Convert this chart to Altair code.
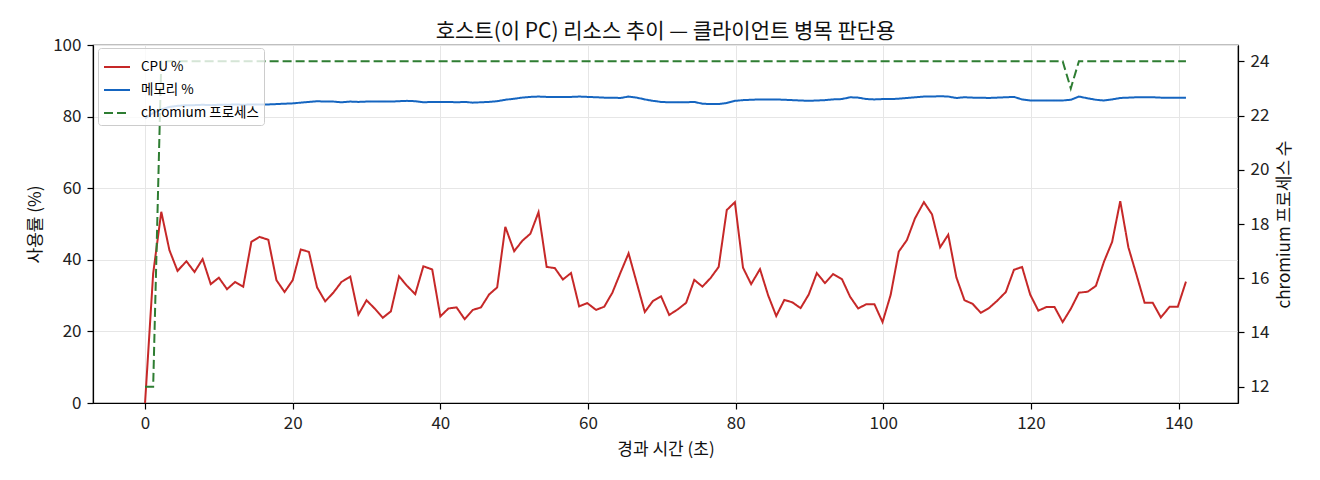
import altair as alt
import pandas as pd

# elapsed seconds of each sample
times = [
    0.0, 1.1, 2.2, 3.3, 4.4, 5.6, 6.7, 7.8, 8.9, 10.0,
    11.1, 12.2, 13.3, 14.4, 15.5, 16.7, 17.8, 18.9, 20.0, 21.1,
    22.2, 23.3, 24.4, 25.5, 26.6, 27.8, 28.9, 30.0, 31.1, 32.2,
    33.3, 34.4, 35.5, 36.6, 37.7, 38.9, 40.0, 41.1, 42.2, 43.3,
    44.4, 45.5, 46.6, 47.7, 48.8, 50.0, 51.1, 52.2, 53.3, 54.4,
    55.5, 56.6, 57.7, 58.8, 59.9, 61.1, 62.2, 63.3, 64.4, 65.5,
    66.6, 67.7, 68.8, 69.9, 71.0, 72.2, 73.3, 74.4, 75.5, 76.6,
    77.7, 78.8, 79.9, 81.0, 82.1, 83.3, 84.4, 85.5, 86.6, 87.7,
    88.8, 89.9, 91.0, 92.1, 93.2, 94.4, 95.5, 96.6, 97.7, 98.8,
    99.9, 101.0, 102.1, 103.2, 104.3, 105.5, 106.6, 107.7, 108.8, 109.9,
    111.0, 112.1, 113.2, 114.3, 115.4, 116.6, 117.7, 118.8, 119.9, 121.0,
    122.1, 123.2, 124.3, 125.4, 126.5, 127.7, 128.8, 129.9, 131.0, 132.1,
    133.2, 134.3, 135.4, 136.5, 137.6, 138.8, 139.9, 141.0,
]

cpu = [
    0.0, 36.2, 53.4, 42.7, 36.9, 39.6, 36.6, 40.2, 33.2, 35.0,
    31.8, 33.8, 32.5, 45.0, 46.4, 45.6, 34.3, 31.0, 34.3, 42.9,
    42.2, 32.3, 28.4, 30.8, 33.8, 35.3, 24.7, 28.7, 26.4, 23.8,
    25.6, 35.4, 32.7, 30.4, 38.2, 37.3, 24.2, 26.4, 26.7, 23.4,
    26.0, 26.7, 30.3, 32.3, 49.2, 42.4, 45.3, 47.3, 53.3, 38.0,
    37.7, 34.5, 36.3, 27.0, 27.9, 26.0, 26.9, 30.8, 36.4, 41.8,
    33.6, 25.4, 28.5, 29.8, 24.6, 26.2, 28.0, 34.4, 32.5, 34.9,
    38.0, 53.9, 56.1, 37.8, 33.2, 37.4, 30.1, 24.3, 28.8, 28.1,
    26.5, 30.3, 36.3, 33.5, 36.0, 34.6, 29.7, 26.4, 27.6, 27.6,
    22.6, 30.2, 42.3, 45.5, 51.6, 56.1, 52.7, 43.5, 47.0, 35.1,
    28.7, 27.7, 25.2, 26.5, 28.5, 31.0, 37.2, 38.0, 30.3, 25.8,
    26.8, 26.8, 22.6, 26.3, 30.8, 31.1, 32.7, 39.5, 45.0, 56.4,
    43.5, 35.8, 28.0, 28.0, 23.9, 26.9, 26.9, 33.9,
]

memory = [
    79.5, 81.0, 82.0, 82.7, 83.0, 83.2, 83.2, 83.3, 83.2, 83.3,
    83.3, 83.4, 83.3, 83.4, 83.4, 83.4, 83.5, 83.6, 83.7, 83.9,
    84.1, 84.3, 84.2, 84.2, 84.0, 84.2, 84.1, 84.2, 84.2, 84.2,
    84.2, 84.3, 84.4, 84.3, 84.0, 84.1, 84.1, 84.1, 84.0, 84.1,
    83.9, 84.0, 84.1, 84.3, 84.7, 85.0, 85.3, 85.5, 85.6, 85.5,
    85.5, 85.5, 85.5, 85.6, 85.5, 85.4, 85.3, 85.3, 85.2, 85.6,
    85.3, 84.8, 84.4, 84.1, 84.0, 84.0, 84.0, 84.1, 83.6, 83.5,
    83.5, 83.8, 84.4, 84.6, 84.7, 84.8, 84.8, 84.8, 84.7, 84.6,
    84.5, 84.4, 84.5, 84.6, 84.8, 84.9, 85.4, 85.3, 84.9, 84.8,
    84.9, 84.9, 85.0, 85.2, 85.4, 85.6, 85.6, 85.7, 85.6, 85.2,
    85.4, 85.3, 85.3, 85.2, 85.3, 85.4, 85.5, 84.8, 84.5, 84.5,
    84.5, 84.5, 84.5, 84.7, 85.6, 85.1, 84.7, 84.5, 84.8, 85.2,
    85.3, 85.4, 85.4, 85.4, 85.3, 85.3, 85.3, 85.3,
]

chromium = [
    12, 12, 24, 24, 24, 24, 24, 24, 24, 24,
    24, 24, 24, 24, 24, 24, 24, 24, 24, 24,
    24, 24, 24, 24, 24, 24, 24, 24, 24, 24,
    24, 24, 24, 24, 24, 24, 24, 24, 24, 24,
    24, 24, 24, 24, 24, 24, 24, 24, 24, 24,
    24, 24, 24, 24, 24, 24, 24, 24, 24, 24,
    24, 24, 24, 24, 24, 24, 24, 24, 24, 24,
    24, 24, 24, 24, 24, 24, 24, 24, 24, 24,
    24, 24, 24, 24, 24, 24, 24, 24, 24, 24,
    24, 24, 24, 24, 24, 24, 24, 24, 24, 24,
    24, 24, 24, 24, 24, 24, 24, 24, 24, 24,
    24, 24, 24, 23, 24, 24, 24, 24, 24, 24,
    24, 24, 24, 24, 24, 24, 24, 24,
]

SERIES = ["CPU %", "메모리 %", "chromium 프로세스"]
COLORS = ["#c62828", "#1565c0", "#2e7d32"]
DASHES = [[1, 0], [1, 0], [9, 4]]

FONT = "Noto Sans CJK KR"

left = pd.concat(
    [
        pd.DataFrame({"t": times, "value": cpu, "series": SERIES[0]}),
        pd.DataFrame({"t": times, "value": memory, "series": SERIES[1]}),
    ]
)
right = pd.DataFrame({"t": times, "value": chromium, "series": SERIES[2]})

x_enc = alt.X(
    "t:Q",
    scale=alt.Scale(domain=[-7.05, 148.05], nice=False, zero=False),
    axis=alt.Axis(
        values=list(range(0, 141, 20)), title="경과 시간 (초)", titlePadding=10
    ),
)

legend = alt.Legend(
    title=None,
    orient="none",
    legendX=5,
    legendY=3,
    symbolType="stroke",
    symbolSize=676,
    symbolStrokeWidth=2,
    labelFontSize=13.5,
    labelOffset=10,
    rowPadding=2,
    padding=5,
    fillColor="rgba(255,255,255,0.8)",
    strokeColor="#cccccc",
    cornerRadius=3,
)

color = alt.Color(
    "series:N", scale=alt.Scale(domain=SERIES, range=COLORS), legend=legend
)
dash = alt.StrokeDash(
    "series:N", scale=alt.Scale(domain=SERIES, range=DASHES), legend=legend
)

usage = (
    alt.Chart(left)
    .mark_line(strokeWidth=2)
    .encode(
        x_enc,
        alt.Y(
            "value:Q",
            scale=alt.Scale(domain=[0, 100], nice=False),
            axis=alt.Axis(values=[0, 20, 40, 60, 80, 100], title="사용률 (%)"),
        ),
        color,
        dash,
    )
)

procs = (
    alt.Chart(right)
    .mark_line(strokeWidth=2)
    .encode(
        x_enc,
        alt.Y(
            "value:Q",
            scale=alt.Scale(domain=[11.4, 24.6], nice=False, zero=False),
            axis=alt.Axis(
                orient="right",
                values=[12, 14, 16, 18, 20, 22, 24],
                title="chromium 프로세스 수",
                titleAngle=270,
                titleBaseline="top",
                grid=False,
            ),
        ),
        color,
        dash,
    )
)

chart = (
    alt.layer(usage, procs)
    .resolve_scale(y="independent")
    .properties(
        width=1145,
        height=358,
        title=alt.Title(
            "호스트(이 PC) 리소스 추이 — 클라이언트 병목 판단용",
            fontSize=21,
            fontWeight="normal",
            color="#111111",
            offset=9,
            dy=15,
            anchor="middle",
        ),
        autosize=alt.AutoSizeParams(type="none"),
        padding={"left": 85, "top": 37, "right": 70, "bottom": 60},
    )
    .configure(font=FONT)
    .configure_view(stroke="black", strokeWidth=1.2)
    .configure_axis(
        labelFontSize=17,
        labelColor="#222222",
        labelPadding=6,
        titleFontSize=17,
        titleFontWeight="normal",
        titleColor="#111111",
        titlePadding=8,
        tickColor="black",
        tickSize=6,
        tickWidth=1.2,
        domainColor="black",
        domainWidth=1.2,
        gridColor="#e6e6e6",
        gridWidth=1,
    )
)

chart.save("out.html", embed_options={"renderer": "svg", "actions": False})
